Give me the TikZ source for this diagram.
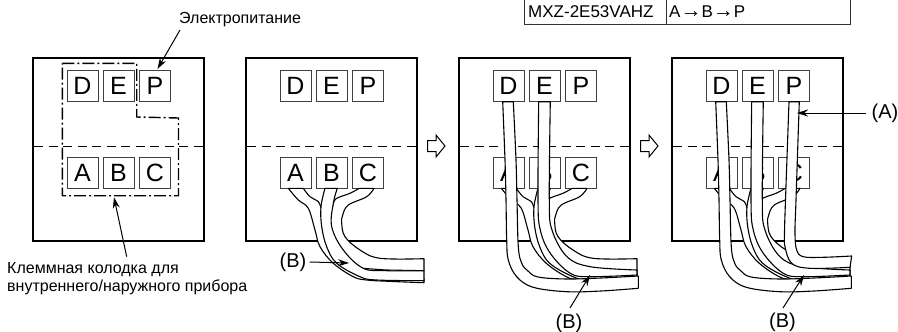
\documentclass[tikz,border=0pt]{standalone}
\usepackage{fontspec}
\setmainfont{Liberation Sans}
\usetikzlibrary{arrows.meta}
\tikzset{
 panelbox/.style={draw=black,line width=1.8pt,fill=white},
 term/.style={draw=black!75,line width=1pt,fill=white,minimum width=31pt,minimum height=31pt,inner sep=0pt,font=\fontsize{25}{25}\selectfont},
 midline/.style={draw=black,line width=1pt,dash pattern=on 9pt off 5.5pt},
 cable/.style={draw=black,line width=1.1pt,fill=white,line join=round},
 lead/.style={draw=black,line width=1pt,-{Stealth[length=11pt,width=7pt]}},
 lab/.style={font=\fontsize{20}{20}\selectfont,inner sep=0pt},
 small/.style={font=\fontsize{16}{18}\selectfont,inner sep=0pt},
 tabletext/.style={font=\fontsize{17}{17}\selectfont,inner sep=0pt},
 outlinearrow/.style={draw=black,line width=1pt,fill=white},
 sm/.style={smooth,tension=0.6},
}
\newcommand{\panelbase}[1]{%
 \draw[panelbox] (33,58) rectangle (204,241);
 \draw[midline] (34,146) -- (203,146);
 \node[term] (D#1) at (82.5,86) {D};
 \node[term] (E#1) at (118.5,86) {E};
 \node[term] (P#1) at (155,86) {P};
 \node[term] (A#1) at (82.5,172.5) {A};
 \node[term] (B#1) at (118.5,172.5) {B};
 \node[term] (C#1) at (155,172.5) {C};
}
\newcommand{\cableA}{%
 \draw[cable] plot[sm] coordinates {(75.3,188.3) (85.3,200) (95.3,208.3) (102,230) (107,246.7) (120.3,263.3) (140.3,276.7) (153.7,280) (180,281.5) (211,282.7)}
  -- (211,279) -- (170,276) -- (150,275) -- (130,262) -- (118,245) -- (112,225) -- (108,208.3)
  -- plot[sm] coordinates {(108,208.3) (105.3,201.7) (97,196.7) (90.3,188.3)} -- cycle;}
\newcommand{\cableC}{%
 \draw[cable] plot[sm] coordinates {(146.3,188.3) (137,193.3) (123.7,198.3) (120.3,203.3)}
  -- (115,226) -- (125,250) -- (145,268) -- (173,270) -- (211,270.7) -- (211,258.7)
  -- plot[sm] coordinates {(211,258.7) (167,258.3) (147,250) (132,236.7) (128.7,223.3) (129.7,215) (135.3,205) (153.7,196.7) (161,188.3)} -- cycle;}
\newcommand{\cableB}{%
 \draw[cable] plot[sm] coordinates {(112,188.3) (108,206.7) (108.7,226.7) (113.7,246.7) (123.7,263.3) (147,276.7) (163.7,280) (211,280.7)}
  -- (211,270.7)
  -- plot[sm] coordinates {(211,270.7) (173.7,270.7) (150.3,268.3) (130.3,250) (118.7,226.7) (120.3,203.3) (124.3,188.3)} -- cycle;}
\newcommand{\cableD}{%
 \draw[cable] plot[sm] coordinates {(76.7,101.7) (79,160) (80,200) (80.7,240) (82.3,260) (90.7,276.7) (107.3,287.3) (140.7,291.7) (175,291) (212.3,288.3)}
  -- (212.3,276)
  -- plot[sm] coordinates {(212.3,276) (175,278) (140.7,279) (112,277) (102,271) (95.7,263.3) (92.3,246.7) (91,200) (90,160) (87.3,101.7)} -- cycle;}
\newcommand{\cableE}{%
 \draw[cable] plot[sm] coordinates {(112.7,101.7) (112,200) (114.3,230) (124.3,253.3) (144.3,273.3) (164.3,276.7) (211,275)}
  -- (211,270)
  -- plot[sm] coordinates {(211,270) (164.3,266.7) (141,256.7) (126,230) (123.3,200) (124.3,101.7)} -- cycle;}
\newcommand{\cableP}{%
 \draw[cable] plot[sm] coordinates {(150,101.7) (146.5,200) (145.5,233) (146,246.7) (152.7,263.3) (171,268.3) (211,267.3)}
  -- (212.7,256)
  -- plot[sm] coordinates {(212.7,256) (184,257.3) (164.3,256.7) (157.7,250) (156,233) (157,200) (160.3,101.7)} -- cycle;}
\begin{document}
\begin{tikzpicture}[x=1pt,y=-1pt]
\useasboundingbox (0,0) rectangle (898,332);
% table
\node[tabletext,anchor=west] (model) at (528,11.5) {MXZ-2E53VAHZ};
\node[tabletext,anchor=west] (seq) at (669,11.5) {A{\fontsize{21}{21}\selectfont→}B{\fontsize{21}{21}\selectfont→}P};
\draw[black!80,line width=1pt] (524,0) -- (524,24) -- (850,24) -- (850,0);
\draw[black!80,line width=1pt] (666,0) -- (666,24);
% panel 1
\panelbase{a}
\draw[draw=black,line width=1.4pt,dash pattern=on 12pt off 3pt on 2pt off 3pt]
 (62.3,63.3) -- (136.7,63.3) -- (136.7,117) -- (178.5,118) -- (178.5,195.7) -- (62.3,195.7) -- cycle;
\node[small,anchor=west] (power) at (179,20) {Электропитание};
\coordinate (powerTail) at (180,30);
\coordinate (powerTip) at (157.5,69);
\draw[lead] (powerTail) -- (powerTip);
\node[small,anchor=west,align=left] (blockLab) at (7,279) {Клеммная колодка для\\внутреннего/наружного прибора};
\coordinate (blockTail) at (126.7,256.7);
\coordinate (blockTip) at (114,197.3);
\draw[lead] (blockTail) -- (blockTip);
% panel 2
\begin{scope}[xshift=213pt]
\panelbase{b}
\cableA \cableC \cableB
\end{scope}
\node[lab] (B1) at (293,262) {(B)};
\coordinate (b1tip) at (349,263);
\draw[lead] (B1.east)++(3pt,0) -- (b1tip);
% arrow 1
\draw[outlinearrow] (427.7,140.5) -- (436,140.5) -- (436,135) -- (445,146) -- (436,157) -- (436,151.5) -- (427.7,151.5) -- cycle;
% panel 3
\begin{scope}[xshift=426pt]
\panelbase{c}
\cableA \cableC \cableB \cableE \cableD
\end{scope}
\node[lab] (B2) at (569,323) {(B)};
\coordinate (b2tail) at (570,308);
\coordinate (b2tip) at (590,275);
\draw[lead] (b2tail) -- (b2tip);
% arrow 2
\draw[outlinearrow] (640.7,140.5) -- (649,140.5) -- (649,135) -- (658,146) -- (649,157) -- (649,151.5) -- (640.7,151.5) -- cycle;
% panel 4
\begin{scope}[xshift=639pt]
\panelbase{d}
\cableA \cableC \cableB \cableE \cableD \cableP
\end{scope}
\node[lab] (B3) at (782.5,322) {(B)};
\coordinate (b3tail) at (783,308);
\coordinate (b3tip) at (804,275);
\draw[lead] (b3tail) -- (b3tip);
\node[lab] (A3) at (885,113) {(A)};
\coordinate (a3tip) at (797,113);
\draw[lead] (A3.west)++(-5pt,0) -- (a3tip);
\end{tikzpicture}
\end{document}
